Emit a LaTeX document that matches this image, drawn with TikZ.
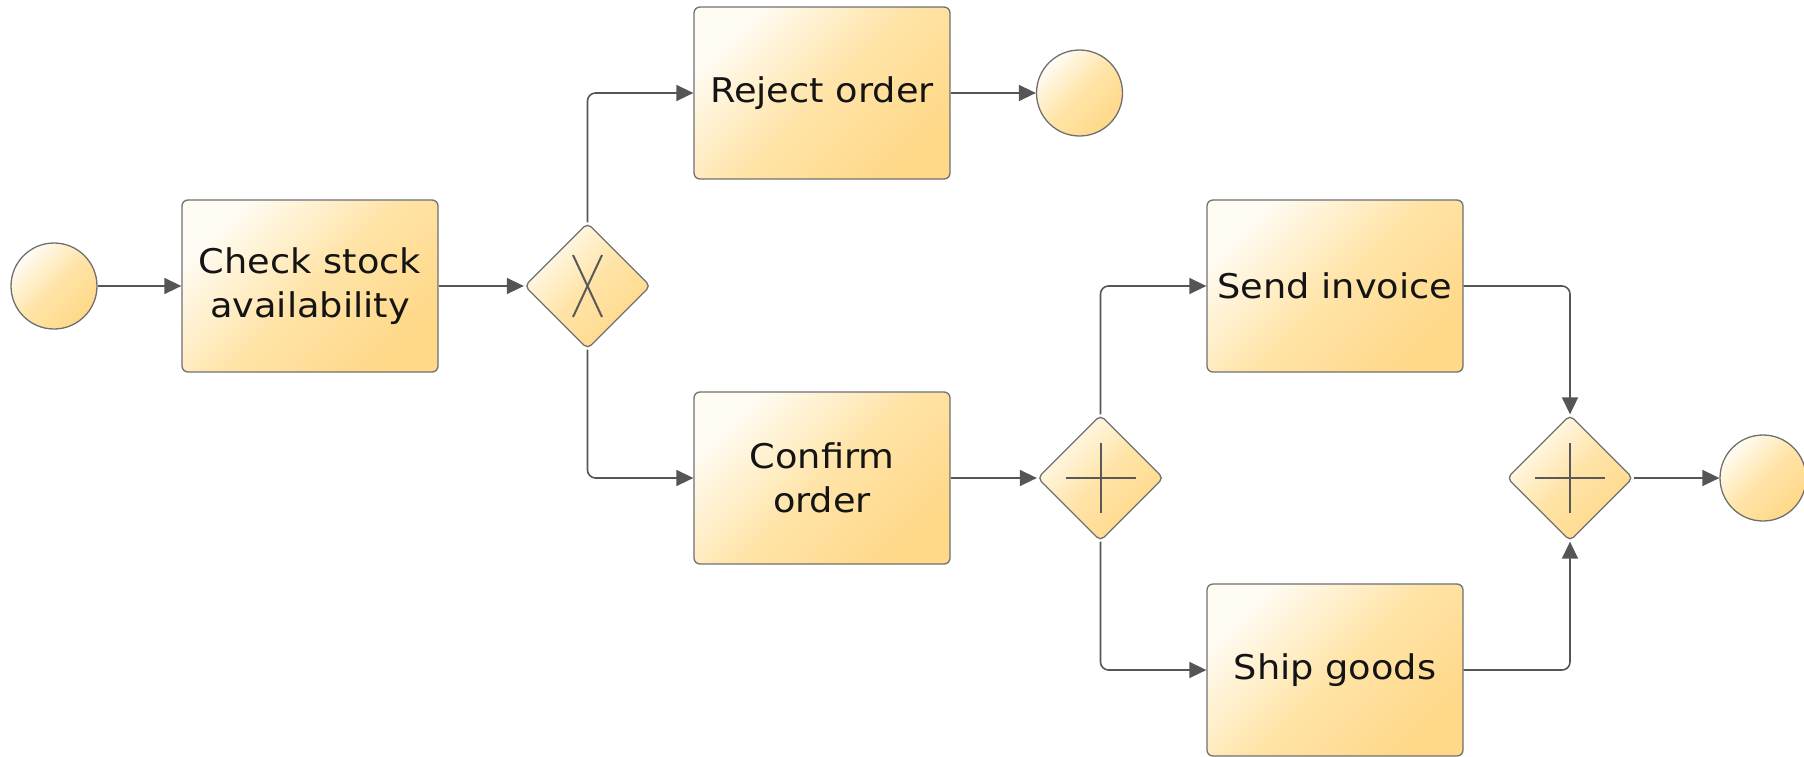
\documentclass[tikz,border=0pt]{standalone}
\usepackage{fontspec}
\setmainfont{DejaVu Sans}[FakeStretch=1.08]
\usetikzlibrary{shapes.geometric, arrows.meta, calc}

\definecolor{shadeLight}{HTML}{FFFCF4}
\definecolor{shadeMid}{HTML}{FFE4A8}
\definecolor{shadeDark}{HTML}{FFD888}
\definecolor{edgeGray}{HTML}{707070}
\definecolor{flowGray}{HTML}{555555}
\definecolor{markGray}{HTML}{595959}
\definecolor{labelInk}{HTML}{141414}

\tikzset{
  bpmnfill/.style={top color=shadeLight, bottom color=shadeDark, middle color=shadeMid,
                   shading angle=45, draw=edgeGray, line width=1.3pt},
  task/.style={bpmnfill, rectangle, rounded corners=6pt, minimum width=256pt,
               minimum height=172pt, inner sep=0pt, align=center,
               font=\fontsize{34}{44}\selectfont, text=labelInk},
  event/.style={bpmnfill, circle, minimum size=86pt, inner sep=0pt},
  gateway/.style={bpmnfill, diamond, minimum width=126pt, minimum height=126pt,
                  inner sep=0pt, rounded corners=5pt},
  flow/.style={draw=flowGray, line width=1.6pt, rounded corners=8pt,
               -{Triangle[length=17pt,width=16pt]}},
  marker/.style={draw=markGray, line width=2pt},
}

\begin{document}
\begin{tikzpicture}[x=1pt, y=-1pt]
  \useasboundingbox (0,0) rectangle (1804,756);

  % events
  \node[event] (start) at (54,286) {};
  \node[event] (endReject) at (1079.5,93) {};
  \node[event] (endDone) at (1763,478) {};

  % tasks
  \node[task] (check) at (310,286) {Check stock\\availability};
  \node[task] (reject) at (822,93) {Reject order};
  \node[task] (confirm) at (822,478) {Confirm\\order};
  \node[task] (invoice) at (1335,286) {Send invoice};
  \node[task] (ship) at (1335,670) {Ship goods};

  % gateways
  \node[gateway] (xor) at (587.5,286) {};
  \node[gateway] (fork) at (1100.5,478) {};
  \node[gateway] (join) at (1570,478) {};

  % gateway markers
  \draw[marker] ($(xor)+(-14.5,-31)$) -- ($(xor)+(14.5,31)$);
  \draw[marker] ($(xor)+(14.5,-31)$) -- ($(xor)+(-14.5,31)$);
  \foreach \g in {fork, join} {
    \draw[marker] ($(\g)+(-35,0)$) -- ($(\g)+(35,0)$);
    \draw[marker] ($(\g)+(0,-35)$) -- ($(\g)+(0,35)$);
  }

  % sequence flows
  \draw[flow] (start.east) -- (check.west);
  \draw[flow] (check.east) -- (xor.west);
  \draw[flow] (xor.north) |- (reject.west);
  \draw[flow] (xor.south) |- (confirm.west);
  \draw[flow] (reject.east) -- (endReject.west);
  \draw[flow] (confirm.east) -- (fork.west);
  \draw[flow] (fork.north) |- (invoice.west);
  \draw[flow] (fork.south) |- (ship.west);
  \draw[flow] (invoice.east) -| (join.north);
  \draw[flow] (ship.east) -| (join.south);
  \draw[flow] (join.east) -- (endDone.west);
\end{tikzpicture}
\end{document}
